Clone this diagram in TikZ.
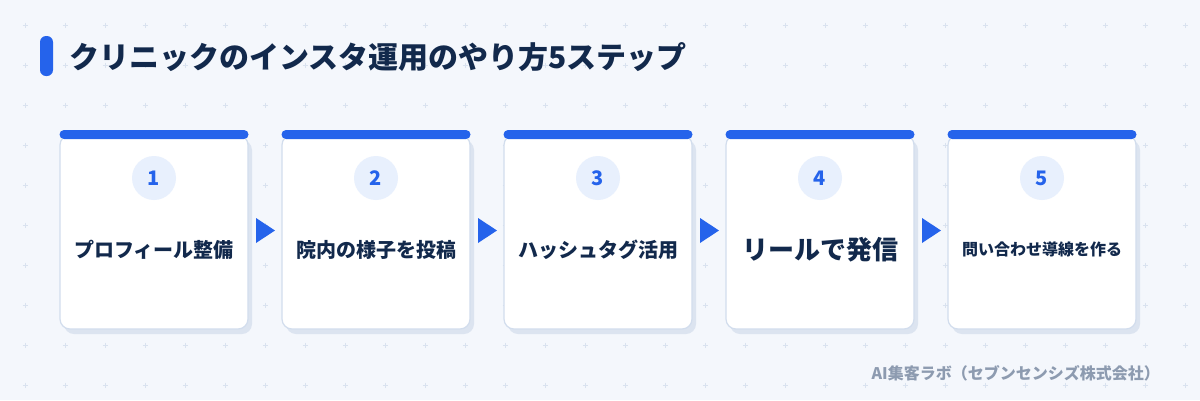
\documentclass[tikz,border=0pt]{standalone}
\usepackage{fontspec}
\setmainfont{Noto Sans CJK JP}
\usetikzlibrary{shadows}

\definecolor{bgcol}{HTML}{F4F7FC}
\definecolor{dotcol}{HTML}{D9E2EF}
\definecolor{blue}{HTML}{2563EB}
\definecolor{navy}{HTML}{12294C}
\definecolor{cardline}{HTML}{D2DDED}
\definecolor{shadowcol}{HTML}{DCE4F0}
\definecolor{badgecol}{HTML}{E8F0FD}
\definecolor{credit}{HTML}{8D9BB0}

\begin{document}
\begin{tikzpicture}[x=1pt,y=-1pt]
    \tikzstyle{card}=[rectangle,rounded corners=10pt,draw=cardline,line width=1.2pt,fill=white,minimum width=188pt,minimum height=194pt,inner sep=0pt,drop shadow={shadow xshift=4pt,shadow yshift=-5pt,fill=shadowcol,opacity=1}]
    \tikzstyle{topbar}=[rectangle,rounded corners=4.5pt,fill=blue,minimum width=189pt,minimum height=9pt,inner sep=0pt]
    \tikzstyle{badge}=[circle,fill=badgecol,text=blue,minimum size=44pt,inner sep=0pt,font=\fontsize{20}{24}\selectfont\bfseries]
    \tikzstyle{steptext}=[inner sep=0pt,text=navy]

    % background with small crosses
    \fill[bgcol] (0,0) rectangle (1200,400);
    \foreach \x in {25,65,...,1185}
        \foreach \y in {25,65,...,385}
            \draw[dotcol,line width=0.8pt] (\x-2.5,\y) -- (\x+2.5,\y) (\x,\y-2.5) -- (\x,\y+2.5);

    \node[rectangle,rounded corners=6pt,fill=blue,minimum width=13pt,minimum height=40pt,inner sep=0pt] (accent) at (46.5,56) {};
    \node[anchor=west,inner sep=0pt,text=navy,font=\fontsize{30}{36}\selectfont\bfseries] (title) at (69,57) {クリニックのインスタ運用のやり方5ステップ};

    \foreach \num/\x/\size/\txt in {1/60/20/プロフィール整備, 2/282/20/院内の様子を投稿, 3/504/20/ハッシュタグ活用, 4/726/26/リールで発信, 5/948/16/問い合わせ導線を作る}
    {
        \node[card] (card-\num) at (\x+94,232) {};
        \node[topbar] (bar-\num) at (\x+94,134.5) {};
        \node[badge] (step-\num) at (\x+94,178) {\num};
        \node[steptext,font=\fontsize{\size}{\size}\selectfont\bfseries] (text-\num) at (\x+94,249.5) {\txt};
    }

    \foreach \x in {256,478,700,922}
        \fill[blue] (\x,218) -- (\x+19,230.5) -- (\x,243) -- cycle;

    \node[anchor=east,inner sep=0pt,text=credit,font=\fontsize{16}{18}\selectfont\bfseries] (credit) at (1160,373) {AI集客ラボ（セブンセンシズ株式会社）};
\end{tikzpicture}
\end{document}
